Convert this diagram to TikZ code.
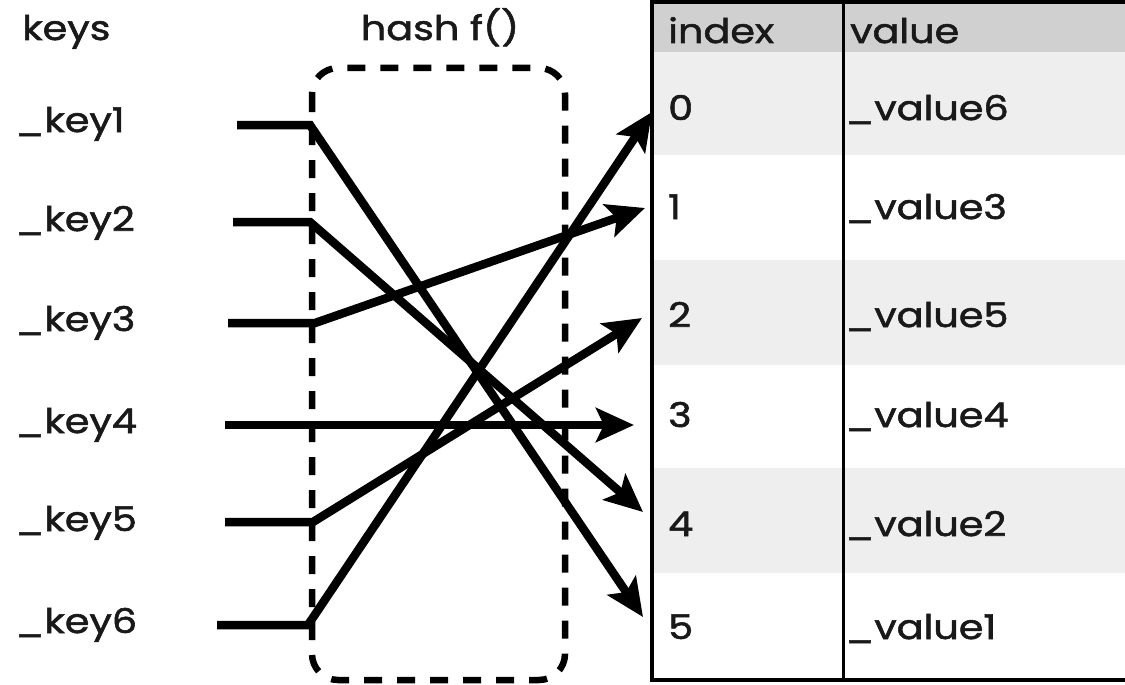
\documentclass[tikz,border=0pt]{standalone}
\usepackage{fontspec}
\setmainfont{Poppins}[FakeStretch=1.17,FakeBold=1.6]
\usetikzlibrary{arrows.meta}
\definecolor{hdr}{HTML}{D0D0D0}
\definecolor{band}{HTML}{EEEEEE}
\begin{document}
\begin{tikzpicture}[x=1pt,y=-1pt,
  txt/.style={font=\fontsize{34}{34}\selectfont, anchor=base west, inner sep=0pt, text=black!90},
  wire/.style={line width=8.5pt, line join=miter},
  arr/.style={wire, -{Stealth[length=38pt,width=34pt,inset=8pt]}},
  hashbox/.style={draw, line width=6.5pt, dash pattern=on 18pt off 15pt, rounded corners=26pt}]
\useasboundingbox (0,0) rectangle (1125,685);
\fill[white] (0,0) rectangle (1125,685);
% table
\fill[hdr] (652,2) rectangle (1125,52);
\fill[band] (652,52) rectangle (1125,155);
\fill[band] (652,260) rectangle (1125,365);
\fill[band] (652,468) rectangle (1125,573);
\draw[line width=4.5pt] (1125,2) -- (652,2) -- (652,680) -- (1125,680);
\draw[line width=3pt] (843,2) -- (843,680);
% headers
\node[txt] (hkeys) at (22,40) {keys};
\node[txt, anchor=base] (hhash) at (440,40) {hash f()};
\node[txt] (hidx) at (668,43) {index};
\node[txt] (hval) at (850,43) {value};
% keys
\node[txt] (k1) at (15,132) {\_key1};
\node[txt] (k2) at (15,231) {\_key2};
\node[txt] (k3) at (15,331) {\_key3};
\node[txt] (k4) at (15,433) {\_key4};
\node[txt] (k5) at (15,531) {\_key5};
\node[txt] (k6) at (15,633) {\_key6};
% index / value cells
\node[txt] (i0) at (668,120) {0};
\node[txt] (i1) at (668,219) {1};
\node[txt] (i2) at (668,327) {2};
\node[txt] (i3) at (668,427) {3};
\node[txt] (i4) at (668,536) {4};
\node[txt] (i5) at (668,639) {5};
\node[txt] (v0) at (845,120) {\_value6};
\node[txt] (v1) at (845,219) {\_value3};
\node[txt] (v2) at (845,327) {\_value5};
\node[txt] (v3) at (845,427) {\_value4};
\node[txt] (v4) at (845,536) {\_value2};
\node[txt] (v5) at (845,639) {\_value1};
% hash box
\draw[hashbox] (312,68) rectangle (565,680);
% connector points
\coordinate (s1) at (237,125); \coordinate (b1) at (310,125);
\coordinate (s2) at (233,222); \coordinate (b2) at (310,222);
\coordinate (s3) at (228,323); \coordinate (b3) at (315,323);
\coordinate (s4) at (225,425);
\coordinate (s5) at (225,522); \coordinate (b5) at (313,522);
\coordinate (s6) at (217,625); \coordinate (b6) at (308,625);
\coordinate (t0) at (652,112);
\coordinate (t1) at (645,208);
\coordinate (t2) at (642,318);
\coordinate (t3) at (634,425);
\coordinate (t4) at (643,512);
\coordinate (t5) at (643,617);
% connectors
\draw[arr] (s1) -- (b1) -- (t5);
\draw[arr] (s2) -- (b2) -- (t4);
\draw[arr] (s3) -- (b3) -- (t1);
\draw[arr] (s4) -- (t3);
\draw[arr] (s5) -- (b5) -- (t2);
\draw[arr] (s6) -- (b6) -- (t0);
\end{tikzpicture}
\end{document}
